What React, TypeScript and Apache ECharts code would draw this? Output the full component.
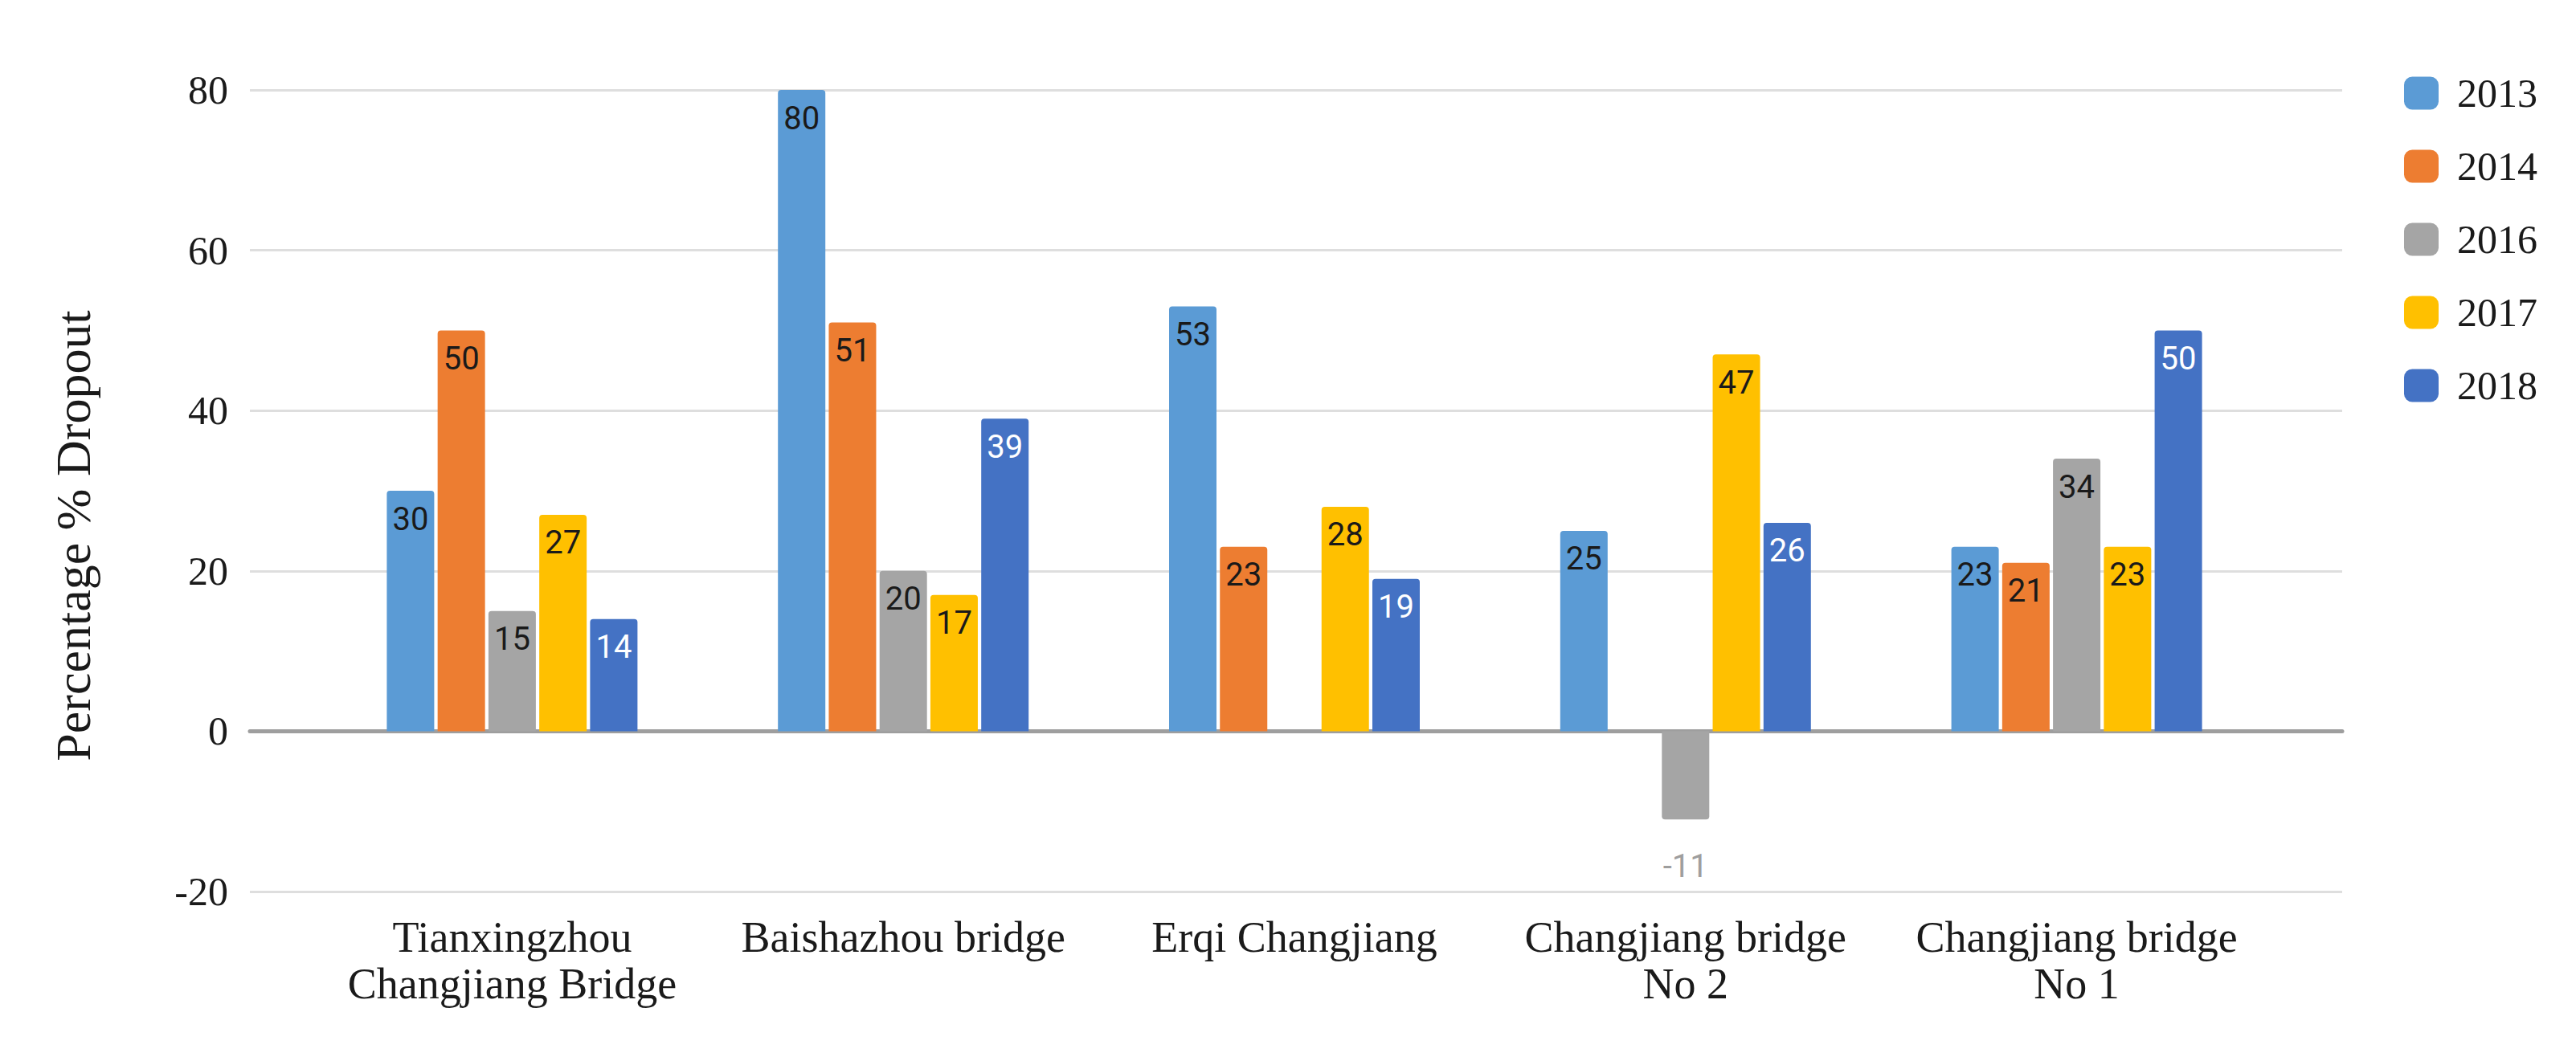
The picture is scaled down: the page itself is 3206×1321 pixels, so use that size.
import React, { useEffect, useRef } from "react";
import * as echarts from "echarts";

const categories = [
  "Tianxingzhou\nChangjiang Bridge",
  "Baishazhou bridge",
  "Erqi Changjiang",
  "Changjiang bridge\nNo 2",
  "Changjiang bridge\nNo 1",
];
const years = ["2013", "2014", "2016", "2017", "2018"];
const v2013 = [30, 80, 53, 25, 23];
const v2014 = [50, 51, 23, null, 21];
const v2016 = [15, 20, null, -11, 34];
const v2017 = [27, 17, 28, 47, 23];
const v2018 = [14, 39, 19, 26, 50];
const seriesValues = [v2013, v2014, v2016, v2017, v2018];
const colors = ["#5B9BD5", "#ED7D31", "#A5A5A5", "#FFC000", "#4472C4"];
const labelColors = ["#1a1a1a", "#1a1a1a", "#1a1a1a", "#1a1a1a", "#ffffff"];
const yMin = -20;
const yMax = 80;
const yStep = 20;
const yTitle = "Percentage % Dropout";

const SERIF = "'Liberation Serif', 'Times New Roman', serif";
const SANS = "Roboto, 'Liberation Sans', Arial, sans-serif";

export default function App() {
  const ref = useRef<HTMLDivElement>(null);
  useEffect(() => {
    if (!ref.current) return;
    const chart = echarts.init(ref.current, null, { renderer: "svg" });
    const series = seriesValues.map((vals, i) => ({
      name: years[i],
      type: "bar",
      xAxisIndex: 1,
      yAxisIndex: 1,
      barWidth: 59,
      barGap: "7.2%",
      itemStyle: { color: colors[i], borderRadius: [4, 4, 0, 0] },
      label: {
        show: true,
        position: "insideTop",
        distance: 15,
        fontFamily: SANS,
        fontSize: 40,
        color: labelColors[i],
      },
      data: vals.map((v) =>
        v !== null && v < 0
          ? {
              value: v,
              itemStyle: { borderRadius: [0, 0, 4, 4] },
              label: { position: "bottom", distance: 38, color: "#9e9e9e" },
            }
          : v
      ),
    }));
    chart.setOption({
      animation: false,
      backgroundColor: "#ffffff",
      grid: [
        { left: 311, right: 291, top: 112, bottom: 211 },
        { left: 394, right: 378, top: 112, bottom: 211 },
      ],
      xAxis: [
        {
          type: "value",
          gridIndex: 0,
          min: 0,
          max: 1,
          axisLine: { show: true, onZero: true, lineStyle: { color: "#9e9e9e", width: 5 } },
          axisTick: { show: false },
          axisLabel: { show: false },
          splitLine: { show: false },
        },
        {
          type: "category",
          gridIndex: 1,
          data: categories,
          axisLine: { show: false, onZero: false },
          axisTick: { show: false },
          axisLabel: {
            interval: 0,
            margin: 28,
            fontFamily: SERIF,
            fontSize: 54,
            lineHeight: 58,
            color: "#1a1a1a",
          },
          splitLine: { show: false },
        },
      ],
      yAxis: [
        {
          type: "value",
          gridIndex: 0,
          min: yMin,
          max: yMax,
          interval: yStep,
          axisLine: { show: false },
          axisTick: { show: false },
          axisLabel: {
            margin: 27,
            fontFamily: SERIF,
            fontSize: 50,
            color: "#1a1a1a",
          },
          splitLine: { show: true, lineStyle: { color: "#dedede", width: 3 } },
        },
        {
          type: "value",
          gridIndex: 1,
          min: yMin,
          max: yMax,
          interval: yStep,
          show: false,
          splitLine: { show: false },
        },
      ],
      legend: {
        orient: "vertical",
        left: 2992,
        top: 91,
        padding: 0,
        itemWidth: 43,
        itemHeight: 41,
        itemGap: 41,
        icon: "roundRect",
        data: years,
        textStyle: {
          fontFamily: SERIF,
          fontSize: 50,
          lineHeight: 42,
          color: "#1a1a1a",
          padding: [0, 0, 0, 18],
        },
      },
      graphic: [
        {
          type: "text",
          x: 91,
          y: 667,
          rotation: Math.PI / 2,
          style: {
            text: yTitle,
            fontFamily: SERIF,
            fontSize: 62,
            fill: "#1a1a1a",
            align: "center",
            verticalAlign: "middle",
          },
        },
      ],
      series,
    });
    return () => chart.dispose();
  }, []);
  return (
    <div
      ref={ref}
      style={{ position: "fixed", left: 0, top: 0, width: 3206, height: 1321 }}
    />
  );
}
